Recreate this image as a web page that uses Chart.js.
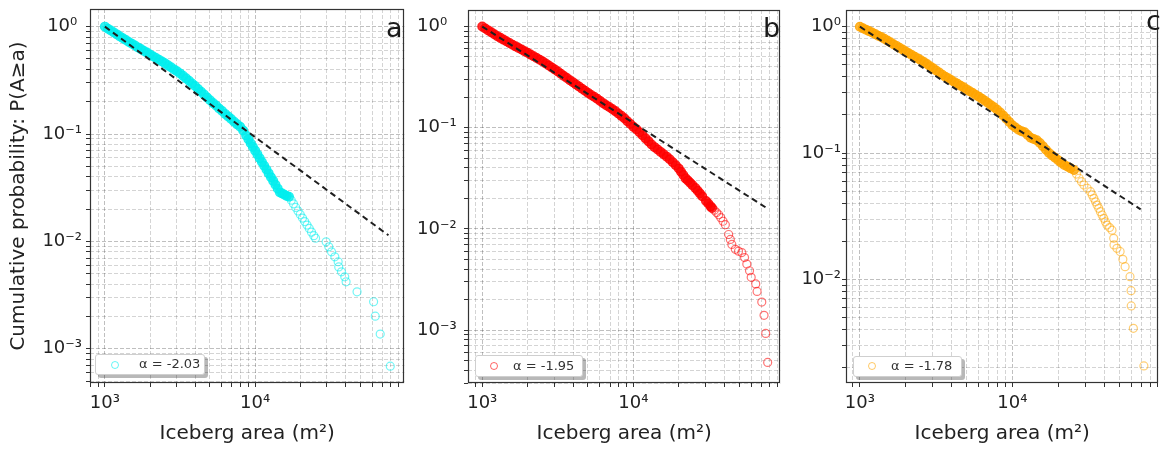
<!DOCTYPE html>
<html><head><meta charset="utf-8">
<script src="https://cdn.jsdelivr.net/npm/chart.js@4.4.1/dist/chart.umd.min.js"></script>
<style>
html,body{margin:0;padding:0;background:#fff;}
#wrap{position:relative;width:1164px;height:450px;overflow:hidden;background:#fff;font-family:'DejaVu Sans',sans-serif;}
canvas{position:absolute;top:0;}
.leg{position:absolute;background:#fff;border:1px solid #cfcfcf;border-radius:3px;box-shadow:3px 3px 0 rgba(0,0,0,0.28);box-sizing:border-box;}
.leg .mk{position:absolute;width:8px;height:8px;border-radius:50%;box-sizing:border-box;border:1.3px solid;}
.leg .tx{position:absolute;font-size:13px;line-height:13px;color:#333;white-space:nowrap;}
.tag{position:absolute;font-size:27px;line-height:27px;color:#1a1a1a;}
</style></head><body>
<div id="wrap">
<canvas id="ca" width="410" height="450" style="left:0px"></canvas>
<canvas id="cb" width="376" height="450" style="left:410px"></canvas>
<canvas id="cc" width="378" height="450" style="left:786px"></canvas>
<div class="tag" style="left:386px;top:14px">a</div>
<div class="tag" style="left:763px;top:14px">b</div>
<div class="tag" style="left:1146px;top:7px">c</div>
</div>
<script>
// ---------- data ----------
const areaA = [1000,1047,1096,1148,1202,1259,1318,1380,1445,1514,1585,1660,1738,1820,1905,1995,2089,2188,2291,2399,2512,2630,2754,2884,3020,3162,3311,3467,3631,3802,3981,4169,4365,4571,4786,5012,5248,5495,5754,6026,6310,6607,6918,7244,7586,7943,8318,
 8710,9016,9333,9661,10000,10350,10720,11090,11480,11890,12300,12740,13180,13650,14130,14620,15140,15670,16220,16790,17380,17990,18620,19280,19950,20650,21380,22130,22910,23710,24550,25230,
 29650,30900,32210,33880,35650,35970,37500,39450,40270,47640,61380,62950,67920,79240];
const probA = [1.000,0.957,0.920,0.881,0.847,0.811,0.780,0.750,0.719,0.693,0.667,0.641,0.618,0.594,0.573,0.551,0.530,0.511,0.491,0.473,0.455,0.436,0.418,0.400,0.384,0.367,0.348,0.330,0.313,0.296,0.280,0.263,0.248,0.233,0.219,0.206,0.194,0.184,0.173,0.164,0.154,0.146,0.138,0.130,0.123,0.117,0.108,
 0.0968,0.0893,0.0822,0.0759,0.0700,0.0646,0.0594,0.0548,0.0506,0.0467,0.0430,0.0396,0.0366,0.0337,0.0310,0.0286,0.0279,0.0272,0.0265,0.0261,0.0242,0.0224,0.0207,0.0192,0.0178,0.0165,0.0153,0.0142,0.0132,0.0122,0.0113,0.0107,
 0.00991,0.00891,0.00800,0.00718,0.00646,0.00579,0.00521,0.00468,0.00420,0.00339,0.00274,0.00201,0.00137,0.000689];
const fitAreaA = [1000, 77100];
const fitProbA = [1.0, 0.0114];
const labelA = 'α = -2.03';

const areaB = [1000,1047,1096,1148,1202,1259,1318,1380,1445,1514,1585,1660,1738,1820,1905,1995,2089,2188,2291,2399,2512,2630,2754,2884,3020,3162,3311,3467,3631,3802,3981,4169,4365,4571,4786,5012,5248,5495,5754,6026,6310,6607,6918,7244,7586,7943,8318,8710,9120,9550,10000,10470,10960,
 11480,12020,12590,13180,13800,14450,15140,15850,16600,17380,18200,19050,19950,20650,21380,22130,22910,23710,24550,25700,26610,27540,28510,30200,31260,32360,33110,34280,35480,36650,37840,39170,40550,
 42660,43750,44770,47210,49550,52120,54330,56230,58610,60120,64420,65770,70630,73110,74990,77270];
const probB = [1.000,0.957,0.916,0.877,0.839,0.804,0.773,0.743,0.715,0.687,0.661,0.637,0.614,0.592,0.570,0.550,0.528,0.508,0.489,0.470,0.452,0.432,0.412,0.394,0.376,0.359,0.342,0.325,0.310,0.294,0.281,0.267,0.255,0.243,0.232,0.221,0.211,0.202,0.193,0.184,0.175,0.167,0.160,0.153,0.146,0.138,0.131,0.124,0.116,0.109,0.102,0.0964,0.0902,
 0.0841,0.0785,0.0733,0.0682,0.0643,0.0610,0.0577,0.0546,0.0518,0.0488,0.0455,0.0425,0.0396,0.0367,0.0341,0.0316,0.0301,0.0286,0.0271,0.0253,0.0238,0.0224,0.0210,0.0189,0.0178,0.0167,0.0161,0.0153,0.0145,0.0138,0.0129,0.0119,0.0110,
 0.00881,0.00787,0.00703,0.00628,0.00603,0.00583,0.00521,0.00449,0.00386,0.00332,0.00286,0.00241,0.00189,0.00140,0.000927,0.000479];
const fitAreaB = [1000, 76000];
const fitProbB = [1.0, 0.0161];
const labelB = 'α = -1.95';

const areaC = [1000,1047,1096,1148,1202,1259,1318,1380,1445,1514,1585,1660,1738,1820,1905,1995,2089,2188,2291,2399,2512,2630,2754,2884,3020,3162,3311,3467,3631,3802,3981,4169,4365,4571,4786,5012,5248,5495,5754,6026,6310,6607,6918,7244,7586,7943,8318,8710,9120,9550,10000,10470,10960,11480,12020,12590,13180,13800,14450,15140,15850,16600,17380,18200,19050,19950,20890,21880,
 22910,23990,25350,26300,27360,28380,29440,30900,32510,33340,34200,35080,35890,36820,37750,38730,39720,40740,41690,43350,44980,46130,46340,48420,50820,52970,54820,59020,59980,60120,62090,72780];
const probC = [1.000,0.973,0.948,0.923,0.899,0.875,0.849,0.828,0.804,0.778,0.752,0.726,0.705,0.681,0.659,0.637,0.617,0.597,0.578,0.561,0.542,0.525,0.506,0.486,0.469,0.450,0.433,0.417,0.402,0.390,0.377,0.364,0.353,0.341,0.331,0.319,0.308,0.299,0.288,0.279,0.269,0.259,0.249,0.239,0.230,0.220,0.209,0.198,0.187,0.176,0.166,0.159,0.153,0.149,0.146,0.139,0.132,0.129,0.126,0.120,0.113,0.106,0.100,0.0955,0.0916,0.0877,0.0838,0.0804,
 0.0782,0.0759,0.0733,0.0681,0.0631,0.0593,0.0558,0.0526,0.0494,0.0466,0.0438,0.0411,0.0387,0.0365,0.0343,0.0323,0.0304,0.0285,0.0269,0.0257,0.0245,0.0211,0.0187,0.0176,0.0166,0.0144,0.0126,0.0105,0.00813,0.00615,0.00409,0.00206];
const fitAreaC = [1000, 69300];
const fitProbC = [1.0, 0.0358];
const labelC = 'α = -1.78';

const xTickValues = [1000, 10000];
const xTickLabels = ['10³', '10⁴'];
const yTickValuesAB = [1, 0.1, 0.01, 0.001];
const yTickLabelsAB = ['10⁰', '10⁻¹', '10⁻²', '10⁻³'];
const yTickValuesC = [1, 0.1, 0.01];
const yTickLabelsC = ['10⁰', '10⁻¹', '10⁻²'];

const xTitle = 'Iceberg area (m²)';
const yTitle = 'Cumulative probability: P(A≥a)';

// ---------- rendering ----------
const FONT = "'DejaVu Sans', sans-serif";
Chart.defaults.font.family = FONT;

function logGrid(scale) {
  const t = [];
  const lo = Math.floor(Math.log10(scale.min)), hi = Math.ceil(Math.log10(scale.max));
  for (let e = lo; e <= hi; e++) {
    for (let m = 1; m < 10; m++) {
      const v = +(m * Math.pow(10, e)).toPrecision(6);
      if (v >= scale.min && v <= scale.max) t.push({ value: v });
    }
  }
  scale.ticks = t;
}
function labelFor(v, vals, labels) {
  const i = vals.findIndex(x => Math.abs(x - v) / x < 1e-6);
  return i >= 0 ? labels[i] : '';
}
function isDecade(v) {
  const l = Math.log10(v);
  return Math.abs(l - Math.round(l)) < 1e-6;
}
const gridColor = c => (c.tick && isDecade(c.tick.value)) ? 'rgba(0,0,0,0.25)' : 'rgba(0,0,0,0.17)';

const framePlugin = {
  id: 'frame',
  afterDraw(chart) {
    const { ctx, chartArea: a } = chart;
    ctx.save();
    ctx.strokeStyle = '#333';
    ctx.lineWidth = 1.2;
    ctx.strokeRect(Math.round(a.left) + 0.5, Math.round(a.top) + 0.5, Math.round(a.right - a.left) - 1, Math.round(a.bottom - a.top) - 1);
    ctx.restore();
  }
};

function rgba(rgb, a) { return 'rgba(' + rgb.join(',') + ',' + a + ')'; }

function makePanel(p) {
  const cfg = {
    type: 'scatter',
    data: {
      datasets: [
        {
          label: 'fit',
          data: p.fitArea.map((a, i) => ({ x: a, y: p.fitProb[i] })),
          showLine: true,
          borderColor: '#1f1f1f',
          borderWidth: 2,
          borderDash: [6, 4],
          pointRadius: 0,
          fill: false,
          order: 1
        },
        {
          label: p.label,
          data: p.area.map((a, i) => ({ x: a, y: p.prob[i] })),
          borderColor: rgba(p.rgb, 0.6),
          pointBorderColor: c => c.dataIndex < p.denseN ? rgba(p.rgb, 0.85) : rgba(p.rgb, 0.55),
          pointBackgroundColor: c => c.dataIndex < p.denseN ? rgba(p.rgb, 0.8) : 'rgba(0,0,0,0)',
          backgroundColor: 'rgba(0,0,0,0)',
          pointRadius: c => c.dataIndex < p.denseN ? 4.4 : 4,
          pointBorderWidth: 1.2,
          pointHoverRadius: 4,
          showLine: false,
          order: 2
        }
      ]
    },
    options: {
      responsive: false,
      animation: false,
      events: [],
      layout: { padding: p.pad },
      plugins: { legend: { display: false }, tooltip: { enabled: false } },
      scales: {
        x: {
          type: 'logarithmic', position: 'bottom', min: p.xMin, max: p.xMax,
          afterBuildTicks: logGrid,
          afterFit: s => { s.height = 67; s.paddingLeft = 0; s.paddingRight = 0; },
          ticks: {
            autoSkip: false, maxRotation: 0, minRotation: 0, padding: 6, color: '#222',
            font: { family: FONT, size: 18 },
            callback: v => labelFor(v, xTickValues, xTickLabels)
          },
          grid: { color: gridColor, lineWidth: 1, tickLength: 4, tickColor: '#333', tickWidth: 1, tickBorderDash: [] },
          border: { display: false, dash: [4, 2] },
          title: { display: true, text: xTitle, color: '#222', font: { family: FONT, size: 20 }, padding: { top: 0, bottom: 4 } }
        },
        y: {
          type: 'logarithmic', position: 'left', min: p.yMin, max: p.yMax,
          afterBuildTicks: logGrid,
          afterFit: s => { s.width = p.yWidth; s.paddingTop = 0; s.paddingBottom = 0; },
          ticks: {
            autoSkip: false, padding: p.tickPad, crossAlign: p.crossAlign, color: '#222',
            font: { family: FONT, size: 18 },
            callback: v => labelFor(v, p.yVals, p.yLabels)
          },
          grid: { color: gridColor, lineWidth: 1, tickLength: 4, tickColor: '#333', tickWidth: 1, tickBorderDash: [] },
          border: { display: false, dash: [4, 2] },
          title: { display: p.showYTitle, text: yTitle, color: '#222', font: { family: FONT, size: 20 }, padding: { top: 7, bottom: 0 } }
        }
      }
    },
    plugins: [framePlugin]
  };
  const chart = new Chart(document.getElementById(p.id), cfg);

  // HTML legend built from the chart's own dataset
  const ds = chart.data.datasets[1];
  const L = p.legend;
  const box = document.createElement('div');
  box.className = 'leg';
  Object.assign(box.style, { left: L.left + 'px', top: L.top + 'px', width: L.w + 'px', height: L.h + 'px' });
  const mk = document.createElement('div');
  mk.className = 'mk';
  Object.assign(mk.style, { left: (L.mx - 4) + 'px', top: (L.my - 4) + 'px', borderColor: ds.borderColor });
  const tx = document.createElement('div');
  tx.className = 'tx';
  tx.textContent = ds.label;
  Object.assign(tx.style, { left: L.tx + 'px', top: (L.ty - 7) + 'px' });
  box.appendChild(mk); box.appendChild(tx);
  document.getElementById('wrap').appendChild(box);
  return chart;
}

makePanel({
  id: 'ca', area: areaA, prob: probA, fitArea: fitAreaA, fitProb: fitProbA, label: labelA,
  rgb: [0, 238, 238], denseN: 67,
  xMin: 796, xMax: 98400, yMin: 4.8e-4, yMax: 1.46,
  yVals: yTickValuesAB, yLabels: yTickLabelsAB,
  pad: { left: 0, top: 9, right: 4, bottom: 0 }, yWidth: 90, tickPad: 4, crossAlign: 'center', showYTitle: true,
  legend: { left: 95, top: 354, w: 110, h: 21, mx: 19, my: 10, tx: 43, ty: 9 }
});
makePanel({
  id: 'cb', area: areaB, prob: probB, fitArea: fitAreaB, fitProb: fitProbB, label: labelB,
  rgb: [255, 0, 0], denseN: 80,
  xMin: 805, xMax: 93800, yMin: 3.27e-4, yMax: 1.457,
  yVals: yTickValuesAB, yLabels: yTickLabelsAB,
  pad: { left: 7, top: 10, right: 4, bottom: 0 }, yWidth: 51, tickPad: 5, crossAlign: 'far', showYTitle: false,
  legend: { left: 475, top: 355, w: 108, h: 22, mx: 18, my: 10, tx: 37, ty: 9.5 }
});
makePanel({
  id: 'cc', area: areaC, prob: probC, fitArea: fitAreaC, fitProb: fitProbC, label: labelC,
  rgb: [255, 165, 0], denseN: 71,
  xMin: 811, xMax: 90600, yMin: 1.51e-3, yMax: 1.356,
  yVals: yTickValuesC, yLabels: yTickLabelsC,
  pad: { left: 0, top: 10, right: 2, bottom: 0 }, yWidth: 60, tickPad: 1, crossAlign: 'near', showYTitle: false,
  legend: { left: 853, top: 356, w: 109, h: 21, mx: 18, my: 9, tx: 37, ty: 8.5 }
});
</script>
</body></html>
